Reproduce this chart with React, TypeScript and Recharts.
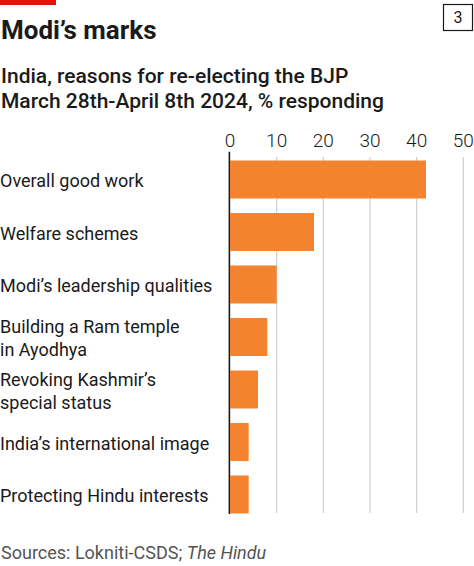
import React from "react";
import { Bar, BarChart, CartesianGrid, XAxis, YAxis } from "recharts";

const categories = [
  "Overall good work",
  "Welfare schemes",
  "Modi’s leadership qualities",
  "Building a Ram temple\nin Ayodhya",
  "Revoking Kashmir’s\nspecial status",
  "India’s international image",
  "Protecting Hindu interests",
];
const values = [42, 18, 10, 8, 6, 4, 4];
const xTicks = [0, 10, 20, 30, 40, 50];

const data = categories.map((name, i) => ({ name, value: values[i] }));

const FONT = "Roboto, 'Noto Sans', sans-serif";
const INK = "#1a1a1a";

function CategoryTick(props: any) {
  const { y, payload } = props;
  const lines = String(payload.value).split("\n");
  const mid = y + 7.3;
  const start = mid - ((lines.length - 1) * 23) / 2;
  return (
    <text x={0} y={start} fill={INK} fontSize={18} fontFamily={FONT}>
      {lines.map((l, i) => (
        <tspan key={i} x={0} y={start + i * 23}>
          {l}
        </tspan>
      ))}
    </text>
  );
}

function ValueTick(props: any) {
  const { x, payload } = props;
  return (
    <text x={x} y={146.5} textAnchor="middle" fill={INK} fontSize={19} fontWeight={300} fontFamily={FONT}>
      {payload.value}
    </text>
  );
}

function gridLine(p: any) {
  const zero = p.x1 < 232;
  return (
    <line
      key={`grid-${p.x1}`}
      x1={zero ? p.x1 - 0.6 : p.x1}
      x2={zero ? p.x2 - 0.6 : p.x2}
      y1={zero ? 151.7 : 157}
      y2={zero ? 514 : 513}
      stroke={zero ? "#1a1a1a" : "#d0d0d0"}
      strokeWidth={zero ? 1.6 : 1.2}
    />
  );
}

export default function App() {
  return (
    <div style={{ position: "absolute", left: 0, top: 0, width: 474, height: 566, background: "#fff" }}>
      <BarChart
        width={474}
        height={530}
        data={data}
        layout="vertical"
        margin={{ top: 0, right: 10.7, bottom: 9, left: 0 }}
        style={{ position: "absolute", left: 0, top: 0 }}
      >
        <CartesianGrid horizontal={false} vertical={gridLine} />
        <XAxis
          type="number"
          orientation="top"
          domain={[0, 50]}
          ticks={xTicks}
          height={153.5}
          axisLine={false}
          tickLine={false}
          tick={<ValueTick />}
          interval={0}
        />
        <YAxis
          type="category"
          dataKey="name"
          width={230}
          axisLine={false}
          tickLine={false}
          tick={<CategoryTick />}
          interval={0}
        />
        <Bar dataKey="value" fill="#f4832f" barSize={38} isAnimationActive={false} />
      </BarChart>
      <svg width={474} height={566} style={{ position: "absolute", left: 0, top: 0, pointerEvents: "none" }}>
        <rect x={0} y={0} width={56} height={5} fill="#e3120b" />
        <text x={1} y={39} fontSize={26} fontWeight={700} fill={INK} fontFamily={FONT}>
          Modi’s marks
        </text>
        <text x={1} y={83} fontSize={21} fontWeight={500} fill={INK} fontFamily={FONT}>
          India, reasons for re-electing the BJP
        </text>
        <text x={1} y={107.5} fontSize={21} fontWeight={500} fill={INK} fontFamily={FONT}>
          March 28th-April 8th 2024, % responding
        </text>
        <rect x={443.5} y={4.5} width={29} height={26} fill="none" stroke={INK} strokeWidth={1.2} />
        <text x={458} y={23} textAnchor="middle" fontSize={16} fill={INK} fontFamily={FONT}>
          3
        </text>
        <text x={1} y={559} fontSize={18} fill="#555" fontFamily={FONT}>
          Sources: Lokniti-CSDS; <tspan fontStyle="italic">The Hindu</tspan>
        </text>
      </svg>
    </div>
  );
}
